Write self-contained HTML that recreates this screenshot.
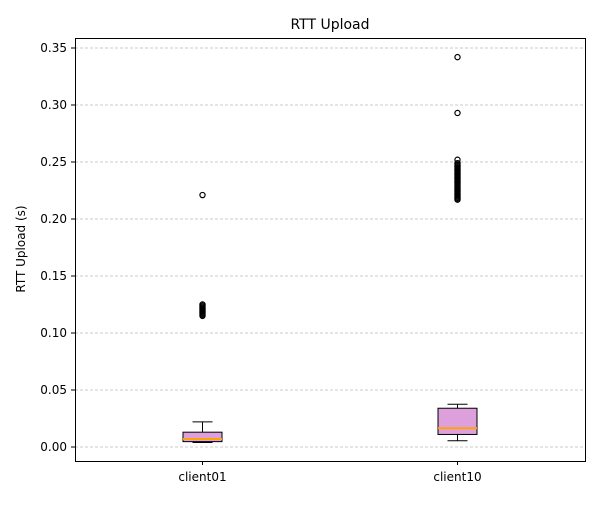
<!DOCTYPE html>
<html><head><meta charset="utf-8"><style>
body{margin:0;background:#fff;font-family:"Liberation Sans","DejaVu Sans",sans-serif}
</style></head><body>
<svg id="chart" width="600" height="500" viewBox="0 0 600 500" xmlns="http://www.w3.org/2000/svg" font-family="DejaVu Sans, Liberation Sans, sans-serif">
<rect width="600" height="500" fill="#fff"/>
<text x="330" y="29" font-size="14" text-anchor="middle">RTT Upload</text>
<text transform="translate(25,249) rotate(-90)" font-size="12" text-anchor="middle">RTT Upload (s)</text>
<g id="grid"></g><g id="marks"></g><g id="axes"></g>
<rect x="75.5" y="38.5" width="510" height="423" fill="none" stroke="#000" stroke-width="1"/>
</svg>
<script>
const categories=["client01","client10"];
const q1=[0.0047,0.011];
const median=[0.007,0.0164];
const q3=[0.013,0.034];
const whiskLow=[0.004,0.0055];
const whiskHigh=[0.022,0.0375];
const outliers01=[0.115,0.116,0.117,0.118,0.119,0.120,0.121,0.122,0.123,0.124,0.125,0.221];
const outliers10=[0.217,0.218,0.219,0.220,0.221,0.222,0.223,0.224,0.225,0.226,0.227,0.228,0.229,0.230,0.231,0.232,0.233,0.234,0.235,0.236,0.237,0.238,0.239,0.240,0.241,0.242,0.243,0.244,0.245,0.246,0.247,0.248,0.249,0.252,0.293,0.342];
const outliers=[outliers01,outliers10];
const yTicks=[0,0.05,0.10,0.15,0.20,0.25,0.30,0.35];
const NS="http://www.w3.org/2000/svg";
const yS=v=>447-v*1140;
const xS=i=>75+510*(i+0.5)/2;
function mk(t,a,p){const e=document.createElementNS(NS,t);for(const k in a)e.setAttribute(k,a[k]);p.appendChild(e);return e;}
const grid=document.getElementById('grid'),marks=document.getElementById('marks'),axes=document.getElementById('axes');
yTicks.forEach(v=>{const y=yS(v);
const g=mk('line',{x1:75,x2:585,y1:y,y2:y,stroke:'#bbb','stroke-dasharray':'3,2','stroke-width':0.8},grid);


mk('line',{x1:71,x2:75,y1:y,y2:y,stroke:'#000'},axes);
const t=mk('text',{x:67,y:y+4,'font-size':12,'text-anchor':'end'},axes);t.textContent=v.toFixed(2);

});
categories.forEach((c,i)=>{const x=xS(i);
mk('line',{x1:x,x2:x,y1:461,y2:465,stroke:'#000'},axes);
const t=mk('text',{x:x,y:481,'font-size':12,'text-anchor':'middle'},axes);t.textContent=c;


const g=mk('g',{},marks);


mk('line',{x1:x,x2:x,y1:yS(q3[i]),y2:yS(whiskHigh[i]),stroke:'#000'},g);
mk('line',{x1:x,x2:x,y1:yS(q1[i]),y2:yS(whiskLow[i]),stroke:'#000'},g);
mk('line',{x1:x-10,x2:x+10,y1:yS(whiskHigh[i]),y2:yS(whiskHigh[i]),stroke:'#000'},g);
mk('line',{x1:x-10,x2:x+10,y1:yS(whiskLow[i]),y2:yS(whiskLow[i]),stroke:'#000'},g);
mk('rect',{x:x-19.5,y:yS(q3[i]),width:39,height:yS(q1[i])-yS(q3[i]),fill:'#dda0dd',stroke:'#000','stroke-width':1},g);
mk('line',{x1:x-19.5,x2:x+19.5,y1:yS(median[i]),y2:yS(median[i]),stroke:'#ffa500','stroke-width':2},g);
outliers[i].forEach(v=>{const o=mk('circle',{cx:x,cy:yS(v),r:2.6,fill:'none',stroke:'#000','stroke-width':1.2},g);

});});
</script>
</body></html>
